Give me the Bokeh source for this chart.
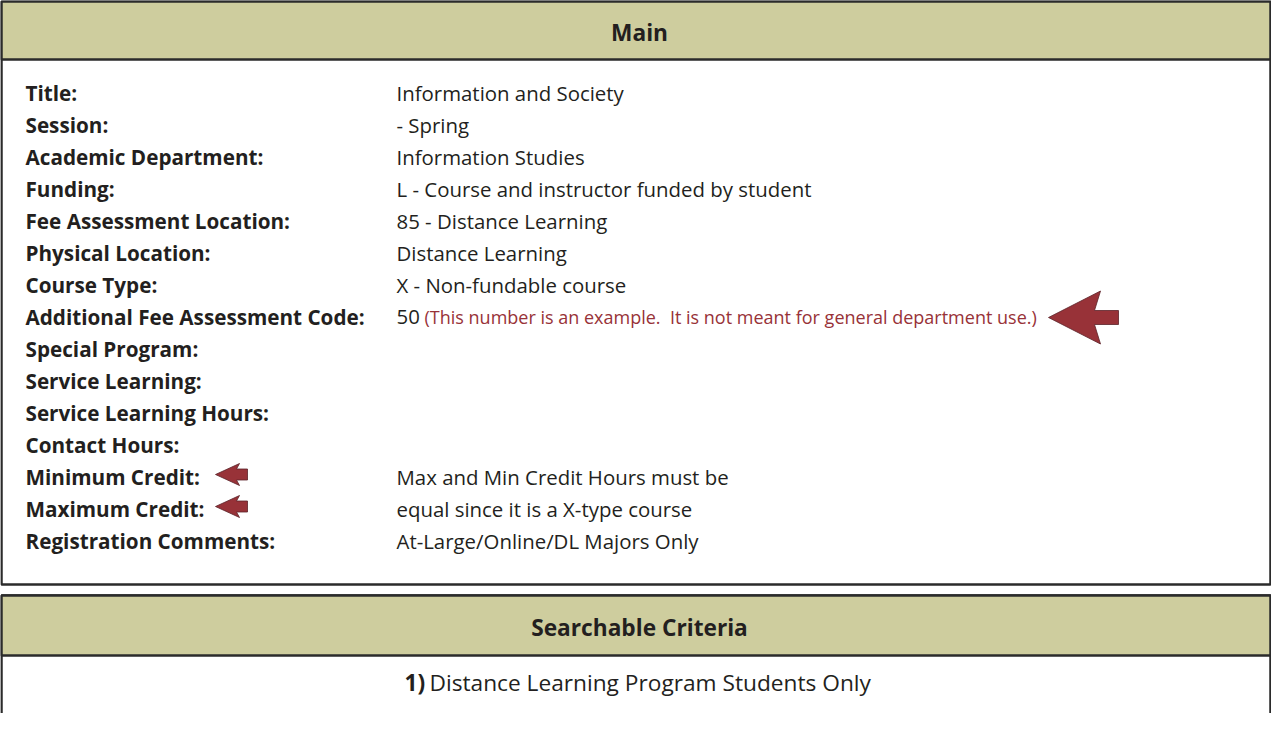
from bokeh.plotting import figure
from bokeh.models import Range1d
from bokeh.core.properties import value
from bokeh.embed import file_html
from bokeh.resources import INLINE

# ---- content ----
labels = ["Title:", "Session:", "Academic Department:", "Funding:",
          "Fee Assessment Location:", "Physical Location:", "Course Type:",
          "Additional Fee Assessment Code:", "Special Program:", "Service Learning:",
          "Service Learning Hours:", "Contact Hours:", "Minimum Credit:",
          "Maximum Credit:", "Registration Comments:"]
values = ["Information and Society", "- Spring", "Information Studies",
          "L - Course and instructor funded by student", "85 - Distance Learning",
          "Distance Learning", "X - Non-fundable course", "50", "", "", "", "",
          "Max and Min Credit Hours must be", "equal since it is a X-type course",
          "At-Large/Online/DL Majors Only"]
note_text = "(This number is an example.\u00a0 It is not meant for general department use.)"
note_row = 7
small_arrow_rows = [12, 13]
header_main = "Main"
header_search = "Searchable Criteria"
criteria_num = "1)"
criteria_text = "Distance Learning Program Students Only"

# ---- style / layout ----
W, H = 1271, 713
X0, Y0 = 8, 8
FONT = "Open Sans"
FS_B = "20.7px"
FS_R = "20.4px"
FS_NOTE = "18px"
FS_HDR = "22.7px"
TXT = "#231f20"
RED = "#983238"
HDR = "#cecd9e"
BORDER = "#2b2b2b"
LABEL_X = 33
VALUE_X = 404
ROW0 = 100
STEP = 32

p = figure(width=W, height=H, output_backend="svg", toolbar_location=None,
           x_range=Range1d(X0, X0 + W), y_range=Range1d(Y0 + H, Y0),
           min_border=0, outline_line_color=None)
p.xaxis.visible = False
p.yaxis.visible = False
p.xgrid.visible = False
p.ygrid.visible = False
p.background_fill_color = "white"
p.border_fill_color = "white"

L, R = 9, 1278
# main box
p.quad(left=[L], right=[R], top=[9], bottom=[592], fill_color="white",
       line_color=BORDER, line_width=2.5)
p.quad(left=[L], right=[R], top=[9], bottom=[67], fill_color=HDR,
       line_color=BORDER, line_width=2.5)
# second box
p.quad(left=[L], right=[R], top=[603], bottom=[760], fill_color="white",
       line_color=BORDER, line_width=2.5)
p.quad(left=[L], right=[R], top=[603], bottom=[663], fill_color=HDR,
       line_color=BORDER, line_width=2.5)

def txt(x, y, t, bold=False, color=TXT, align="left", size=None):
    p.text(x=x, y=y, text=t, text_font=value(FONT),
           text_font_size=value(size or (FS_B if bold else FS_R)),
           text_font_style="bold" if bold else "normal", text_color=color,
           text_align=align, text_baseline="middle")

cx = 647
txt([cx], [40], [header_main], bold=True, align="center", size=FS_HDR)
txt([cx], [635], [header_search], bold=True, align="center", size=FS_HDR)

ys = [ROW0 + STEP * i for i in range(len(labels))]
txt([LABEL_X] * len(labels), ys, labels, bold=True)
vi = [i for i, v in enumerate(values) if v]
txt([VALUE_X] * len(vi), [ys[i] for i in vi], [values[i] for i in vi])
txt([432], [ys[note_row]], [note_text], color=RED, size=FS_NOTE)

txt([412], [690], [criteria_num], bold=True, size=FS_HDR)
txt([437], [690], [criteria_text], size=FS_HDR)

# arrows
def arrow(tip_x, tip_y, head_len, head_half, back_in, shaft_len, shaft_half):
    xs = [tip_x, tip_x + head_len, tip_x + head_len - back_in, tip_x + head_len - back_in + shaft_len,
          tip_x + head_len - back_in + shaft_len, tip_x + head_len - back_in, tip_x + head_len]
    yv = [tip_y, tip_y - head_half, tip_y - shaft_half, tip_y - shaft_half,
          tip_y + shaft_half, tip_y + shaft_half, tip_y + head_half]
    p.patch(xs, yv, fill_color=RED, line_color="#5a2228", line_width=0.8)

arrow(1056, ys[note_row] + 1, 52, 26.5, 6, 24, 7)
for r in small_arrow_rows:
    arrow(223, ys[r] - 2, 24, 11, 3, 11, 5.5)

open("out.html", "w").write(file_html(p, INLINE))
